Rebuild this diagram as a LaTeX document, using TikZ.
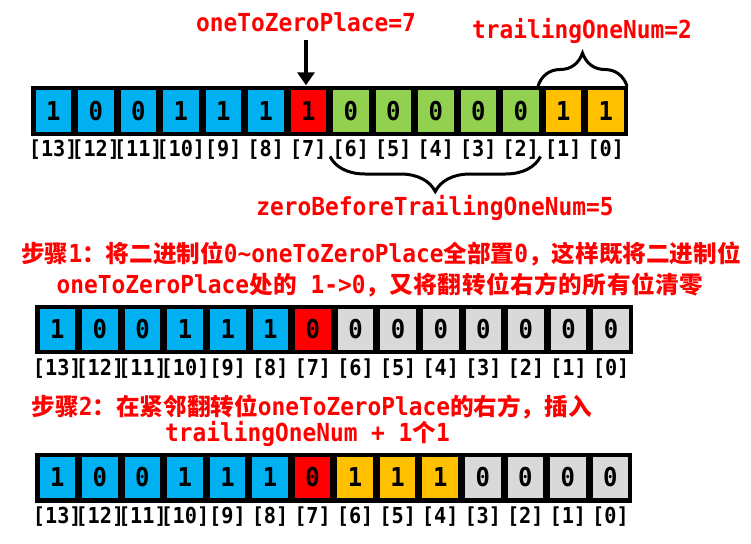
\documentclass[tikz,border=0pt]{standalone}
\usepackage{fontspec}
\newfontfamily\monofnt{DejaVu Sans Mono}[FakeStretch=0.92]
\newfontfamily\cjkfnt{Noto Sans CJK SC}
\newfontfamily\cjkwidefnt{Noto Sans CJK SC}[LetterSpace=2.4]
\newcommand{\zhtext}[1]{{\cjkfnt\bfseries\fontsize{23.6pt}{23.6pt}\selectfont #1}}
\newcommand{\zhwide}[1]{{\cjkwidefnt\bfseries\fontsize{23.6pt}{23.6pt}\selectfont #1}}
\usetikzlibrary{arrows.meta,decorations.pathreplacing}
\definecolor{cblue}{HTML}{00B0F0}
\definecolor{cred}{HTML}{FF0000}
\definecolor{cgreen}{HTML}{92D050}
\definecolor{cgold}{HTML}{FFC000}
\definecolor{cgray}{HTML}{D9D9D9}
\begin{document}
\begin{tikzpicture}[x=1pt,y=-1pt,
  cellbox/.style={rectangle,inner sep=0pt,minimum width=35.5pt,minimum height=41.5pt,
    font=\monofnt\bfseries\fontsize{26pt}{26pt}\selectfont,text=black},
  idx/.style={inner sep=0pt,font=\monofnt\bfseries\fontsize{22pt}{22pt}\selectfont,text=black},
  redlbl/.style={inner sep=0pt,text=cred,font=\monofnt\bfseries\fontsize{24.8pt}{24.8pt}\selectfont},
  bigarrow/.style={line width=4pt,-{Triangle[length=13pt,width=17pt]}},
  bracestyle/.style={line width=3pt,decorate},
]
\useasboundingbox (0,0) rectangle (751,543);

% ---------- bar 1 ----------
\fill[black] (31,85.5) rectangle (628,136);
\foreach \b/\v/\col in {13/1/cblue,12/0/cblue,11/0/cblue,10/1/cblue,9/1/cblue,8/1/cblue,
  7/1/cred,6/0/cgreen,5/0/cgreen,4/0/cgreen,3/0/cgreen,2/0/cgreen,1/1/cgold,0/1/cgold}{
  \node[cellbox,fill=\col] (t\b) at ({32+(13.5-\b)*42.5},110.75) {\v};
  \node[idx] (ti\b) at ({32+(13.5-\b)*42.5},150) {[\b]};
}

\node[redlbl,anchor=base] (lblA) at (306,31.7) {oneToZeroPlace=7};
\coordinate (arrTip) at ([yshift=4.5pt]t7.north);
\coordinate (arrStart) at ([yshift=-8pt]lblA.south);
\draw[bigarrow] (arrStart) -- (arrStart |- arrTip);

\node[redlbl,anchor=base] (lblB) at (582,38.3) {trailingOneNum=2};
\coordinate (brA1) at (538,86);
\coordinate (brA2) at (627,86);
\draw[bracestyle,decoration={brace,amplitude=33pt}] (brA1) -- (brA2);

\coordinate (brB1) at (540.5,156.5);
\coordinate (brB2) at (330,156.5);
\draw[bracestyle,decoration={brace,amplitude=35pt}] (brB1) -- (brB2);
\node[redlbl,anchor=base] (lblC) at (435,215) {zeroBeforeTrailingOneNum=5};

% ---------- step 1 ----------
\node[redlbl,anchor=base] (s1a) at (381,262)
  {\zhtext{步骤}1\zhtext{：将二进制位}0\textasciitilde oneToZeroPlace\zhtext{全部置}0\zhtext{，这样既将二进制位}};
\node[redlbl,anchor=base] (s1b) at (380,293)
  {oneToZeroPlace\zhwide{处的} 1->0\zhwide{，又将翻转位右方的所有位清零}};

% ---------- bar 2 ----------
\fill[black] (35,305) rectangle (633,354);
\foreach \b/\v/\col in {13/1/cblue,12/0/cblue,11/0/cblue,10/1/cblue,9/1/cblue,8/1/cblue,
  7/0/cred,6/0/cgray,5/0/cgray,4/0/cgray,3/0/cgray,2/0/cgray,1/0/cgray,0/0/cgray}{
  \node[cellbox,fill=\col,minimum width=35.6pt,minimum height=41pt] (m\b) at ({36+(13.5-\b)*42.6},329.5) {\v};
  \node[idx] (mi\b) at ({36+(13.5-\b)*42.6},369) {[\b]};
}

% ---------- step 2 ----------
\node[redlbl,anchor=base west] (s2a) at (31.5,415)
  {\zhtext{步骤}2\zhtext{：在紧邻翻转位}oneToZeroPlace\zhtext{的右方，插入}};
\node[redlbl,anchor=base west] (s2b) at (165,441.7)
  {trailingOneNum + 1\zhtext{个}1};

% ---------- bar 3 ----------
\fill[black] (35,452.5) rectangle (632,502.5);
\foreach \b/\v/\col in {13/1/cblue,12/0/cblue,11/0/cblue,10/1/cblue,9/1/cblue,8/1/cblue,
  7/0/cred,6/1/cgold,5/1/cgold,4/1/cgold,3/0/cgray,2/0/cgray,1/0/cgray,0/0/cgray}{
  \node[cellbox,fill=\col,minimum width=35.5pt,minimum height=41pt] (b\b) at ({36+(13.5-\b)*42.55},477.5) {\v};
  \node[idx] (bi\b) at ({36+(13.5-\b)*42.55},517) {[\b]};
}
\end{tikzpicture}
\end{document}
